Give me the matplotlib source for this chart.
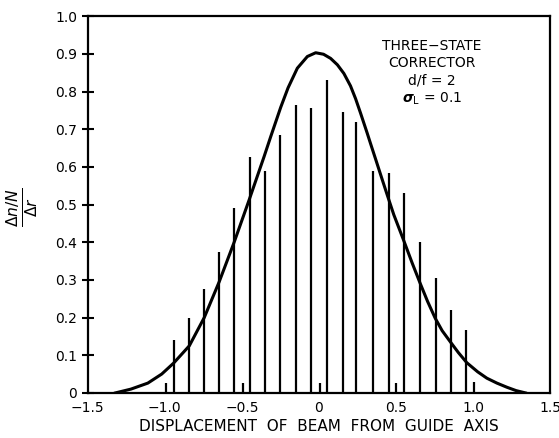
import numpy as np
import matplotlib
matplotlib.use('Agg')
import matplotlib.pyplot as plt

# stick heights
stick_x = [-0.99, -0.94, -0.84, -0.745, -0.65, -0.55, -0.49, -0.45, -0.35, -0.25,
           -0.15, -0.05, 0.005, 0.05, 0.155, 0.24, 0.35, 0.455, 0.503, 0.553,
           0.658, 0.757, 0.855, 0.956, 1.005]
stick_h = [0.025, 0.14, 0.20, 0.275, 0.375, 0.49, 0.025, 0.625, 0.59, 0.685,
           0.765, 0.755, 0.025, 0.83, 0.745, 0.72, 0.59, 0.585, 0.027, 0.53,
           0.40, 0.305, 0.22, 0.167, 0.03]

# smooth curve, points
curve_x = [-1.32, -1.22, -1.11, -1.02, -0.943, -0.841, -0.744, -0.647, -0.55, -0.453,
           -0.356, -0.313, -0.248, -0.2, -0.14, -0.075, -0.021, 0.03, 0.076, 0.12,
           0.162, 0.205, 0.238, 0.27, 0.313, 0.335, 0.37, 0.40, 0.443, 0.486,
           0.55, 0.605, 0.658, 0.705, 0.755, 0.80, 0.852, 0.905, 0.96, 1.03,
           1.09, 1.155, 1.22, 1.28, 1.34]
curve_y = [0.0, 0.010, 0.026, 0.050, 0.079, 0.125, 0.20, 0.295, 0.40, 0.512,
           0.627, 0.68, 0.758, 0.81, 0.862, 0.893, 0.903, 0.899, 0.888, 0.871,
           0.848, 0.815, 0.781, 0.743, 0.69, 0.662, 0.618, 0.58, 0.526, 0.473,
           0.405, 0.345, 0.29, 0.243, 0.198, 0.165, 0.136, 0.107, 0.080, 0.056,
           0.039, 0.026, 0.015, 0.006, 0.0]

x_ticks = [-1.5, -1.0, -0.5, 0, 0.5, 1.0, 1.5]
x_labels = ['\u22121.5', '\u22121.0', '\u22120.5', '0', '0.5', '1.0', '1.5']
y_ticks = [0, 0.1, 0.2, 0.3, 0.4, 0.5, 0.6, 0.7, 0.8, 0.9, 1.0]
y_labels = ['0', '0.1', '0.2', '0.3', '0.4', '0.5', '0.6', '0.7', '0.8', '0.9', '1.0']

fig = plt.figure(figsize=(5.59, 4.38), dpi=100)
ax = fig.add_axes([0.157, 0.103, 0.827, 0.860])

ax.vlines(stick_x, 0, stick_h, color='black', linewidth=1.6)
ax.plot(curve_x, curve_y, color='black', linewidth=2.2, solid_joinstyle='round')

ax.set_xlim(-1.5, 1.5)
ax.set_ylim(0, 1.0)
ax.set_xticks(x_ticks)
ax.set_xticklabels(x_labels, fontsize=10)
ax.set_yticks(y_ticks)
ax.set_yticklabels(y_labels, fontsize=10)
ax.tick_params(axis='x', length=0, pad=6)
ax.tick_params(axis='y', direction='inout', length=9, width=1.5, pad=3)
for s in ax.spines.values():
    s.set_linewidth(1.6)

ax.set_xlabel('DISPLACEMENT  OF  BEAM  FROM  GUIDE  AXIS', fontsize=11, labelpad=3)
fig.text(0.04, 0.527, r'$\frac{\Delta n/N}{\Delta r}$', rotation=90, fontsize=16,
         ha='center', va='center')

ax.text(0.745, 0.875, 'THREE\u2212STATE\nCORRECTOR\nd/f = 2', transform=ax.transAxes,
        ha='center', va='center', fontsize=10, linespacing=1.3)
ax.text(0.745, 0.78, r'$\boldsymbol{\sigma}_{\rm L}$ = 0.1', transform=ax.transAxes,
        ha='center', va='center', fontsize=10)

fig.savefig('out.png', dpi=100)
